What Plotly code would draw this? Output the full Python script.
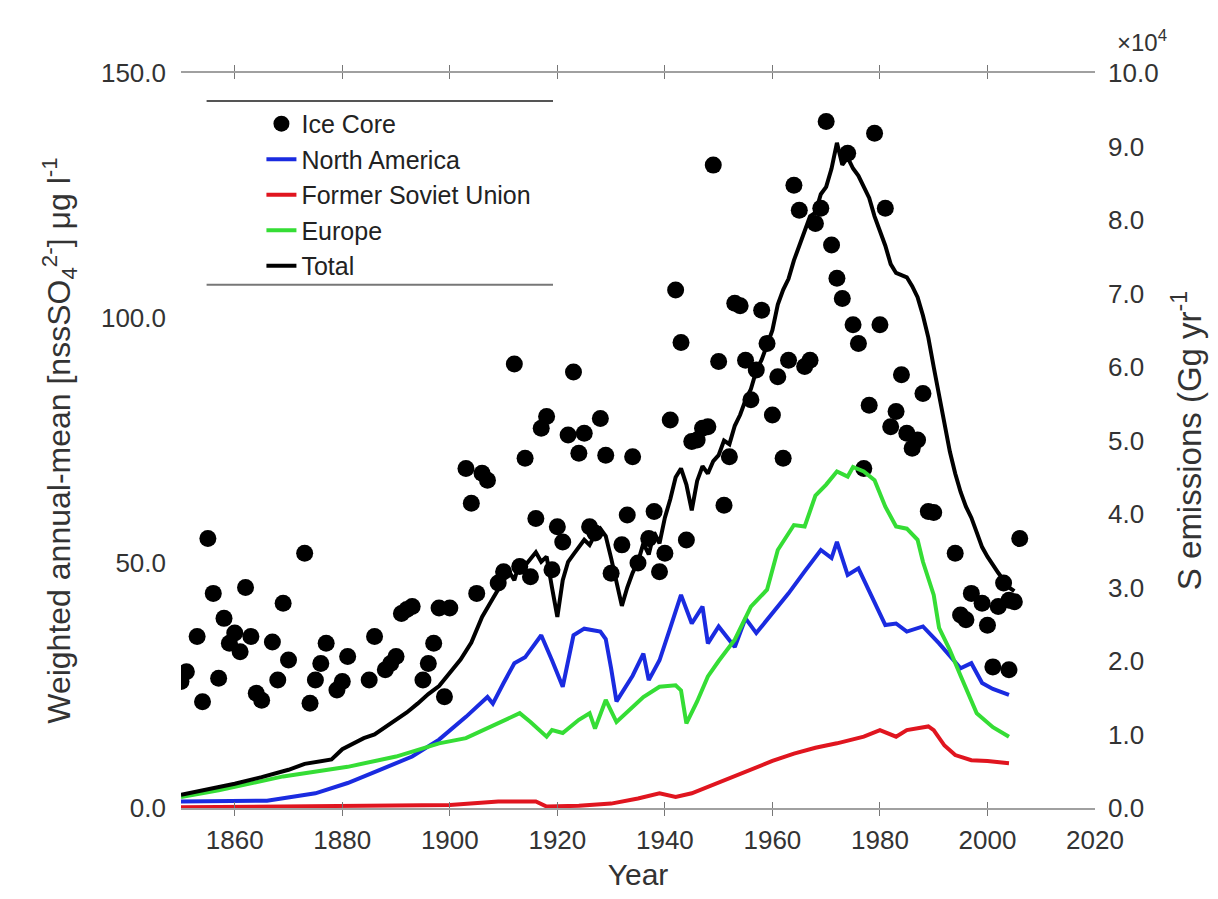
import plotly.graph_objects as go

# ---------------- data ----------------
ice_years = [1850, 1851, 1853, 1854, 1855, 1856, 1857, 1858, 1859, 1860, 1861, 1862, 1863,
             1864, 1865, 1867, 1868, 1869, 1870, 1873, 1874, 1875, 1876, 1877, 1879, 1880,
             1881, 1885, 1886, 1888, 1889, 1890, 1891, 1892, 1893, 1895, 1896, 1897, 1898,
             1899, 1900, 1903, 1904, 1905, 1906, 1907, 1909, 1910, 1912, 1913, 1914, 1915,
             1916, 1917, 1918, 1919, 1920, 1921, 1922, 1923, 1924, 1925, 1926, 1927, 1928,
             1929, 1930, 1932, 1933, 1934, 1935, 1937, 1938, 1939, 1940, 1941, 1942, 1943,
             1944, 1945, 1946, 1947, 1948, 1949, 1950, 1951, 1952, 1953, 1954, 1955, 1956,
             1957, 1958, 1959, 1960, 1961, 1962, 1963, 1964, 1965, 1966, 1967, 1968, 1969,
             1970, 1971, 1972, 1973, 1974, 1975, 1976, 1977, 1978, 1979, 1980, 1981, 1982,
             1983, 1984, 1985, 1986, 1987, 1988, 1989, 1990, 1994, 1995, 1996, 1997, 1999,
             2000, 2001, 2002, 2003, 2004, 2004, 2005, 2006]
ice_values = [25.8, 27.8, 35.0, 21.7, 55.0, 43.8, 26.5, 38.7, 33.6, 35.7, 31.9, 45.0, 35.0,
              23.4, 22.0, 33.9, 26.1, 41.8, 30.2, 52.0, 21.4, 26.1, 29.5, 33.6, 24.1, 25.8,
              30.9, 26.1, 35.0, 28.2, 29.5, 30.9, 39.7, 40.5, 41.1, 26.1, 29.5, 33.6, 40.8,
              22.7, 40.8, 69.3, 62.2, 43.8, 68.3, 66.9, 45.9, 48.2, 90.6, 49.3, 71.4, 47.2,
              59.1, 77.5, 79.9, 48.6, 57.4, 54.3, 76.1, 89.0, 72.4, 76.5, 57.4, 56.1, 79.5,
              72.0, 47.9, 53.7, 59.8, 71.7, 50.0, 55.0, 60.5, 48.2, 52.0, 79.2, 105.7, 95.0,
              54.7, 74.8, 75.1, 77.5, 77.8, 131.2, 91.1, 61.8, 71.7, 103.0, 102.5, 91.4, 83.3,
              89.4, 101.6, 94.8, 80.2, 88.0, 71.4, 91.4, 127.1, 122.0, 90.1, 91.4, 119.3, 122.4,
              140.1, 114.9, 108.1, 104.0, 133.6, 98.6, 94.8, 69.3, 82.2, 137.7, 98.6, 122.4, 77.8,
              80.9, 88.4, 76.5, 73.4, 75.1, 84.6, 60.5, 60.3, 52.0, 39.4, 38.4, 43.8, 41.8,
              37.3, 28.8, 41.1, 45.9, 42.4, 28.2, 42.1, 55.0]

# Emissions in units of 10^4 Gg yr-1
total_years = [1850, 1855, 1860, 1865, 1870, 1873, 1876, 1878, 1880, 1882, 1884, 1886, 1888,
               1890, 1892, 1894, 1896, 1898, 1900, 1902, 1904, 1906, 1908, 1910, 1911, 1912,
               1913, 1914, 1915, 1916, 1917, 1918, 1919, 1920, 1921, 1922, 1923, 1924, 1925,
               1926, 1927, 1928, 1929, 1930, 1931, 1932, 1933, 1934, 1935, 1936, 1937, 1938,
               1939, 1940, 1941, 1942, 1943, 1944, 1945, 1946, 1947, 1948, 1949, 1950, 1951,
               1952, 1953, 1954, 1955, 1956, 1957, 1958, 1959, 1960, 1961, 1962, 1963, 1964,
               1965, 1966, 1967, 1968, 1969, 1970, 1971, 1972, 1973, 1974, 1975, 1976, 1977,
               1978, 1979, 1980, 1981, 1982, 1983, 1984, 1985, 1986, 1987, 1988, 1989, 1990,
               1991, 1992, 1993, 1994, 1995, 1996, 1997, 1998, 1999, 2000, 2001, 2002, 2003,
               2004, 2005]
total_values = [0.18, 0.25, 0.33, 0.42, 0.52, 0.60, 0.63, 0.66, 0.80, 0.88, 0.95, 1.00, 1.10,
                1.20, 1.30, 1.42, 1.55, 1.66, 1.85, 2.02, 2.25, 2.60, 2.85, 3.10, 3.22, 3.10,
                3.35, 3.30, 3.40, 3.48, 3.35, 3.42, 3.00, 2.60, 3.10, 3.35, 3.45, 3.55, 3.65,
                3.58, 3.72, 3.80, 3.70, 3.40, 3.05, 2.75, 3.00, 3.20, 3.35, 3.60, 3.45, 3.75,
                3.60, 3.95, 4.20, 4.50, 4.62, 4.40, 4.05, 4.45, 4.65, 4.55, 4.72, 4.80, 5.00,
                4.95, 5.20, 5.35, 5.55, 5.70, 5.95, 6.10, 6.30, 6.50, 6.85, 7.05, 7.20, 7.45,
                7.65, 7.85, 8.05, 8.10, 8.35, 8.45, 8.70, 9.05, 8.75, 8.85, 8.70, 8.60, 8.45,
                8.30, 8.05, 7.85, 7.65, 7.40, 7.28, 7.25, 7.22, 7.10, 6.95, 6.70, 6.40, 6.00,
                5.60, 5.20, 4.85, 4.55, 4.30, 4.10, 3.95, 3.75, 3.55, 3.42, 3.30, 3.20, 3.10,
                3.00, 2.95]

na_years = [1850, 1860, 1866, 1875, 1881, 1887, 1893, 1898, 1903, 1907, 1908, 1910, 1912,
            1914, 1917, 1919, 1921, 1923, 1925, 1928, 1929, 1930, 1931, 1934, 1936, 1937,
            1939, 1941, 1943, 1945, 1947, 1948, 1950, 1953, 1955, 1957, 1961, 1963, 1966,
            1969, 1971, 1972, 1974, 1976, 1978, 1981, 1983, 1985, 1988, 1991, 1995, 1997,
            1999, 2001, 2004]
na_values = [0.09, 0.09, 0.10, 0.20, 0.34, 0.52, 0.70, 0.93, 1.24, 1.51, 1.42, 1.70, 1.97,
             2.05, 2.35, 2.01, 1.65, 2.35, 2.44, 2.40, 2.30, 1.90, 1.45, 1.80, 2.10, 1.74,
             2.01, 2.45, 2.90, 2.51, 2.74, 2.24, 2.47, 2.19, 2.58, 2.38, 2.74, 2.92, 3.22,
             3.51, 3.40, 3.62, 3.17, 3.26, 2.95, 2.49, 2.51, 2.40, 2.47, 2.24, 1.90, 1.97,
             1.70, 1.62, 1.54]

fsu_years = [1850, 1880, 1900, 1909, 1916, 1918, 1921, 1924, 1930, 1935, 1939, 1942, 1945,
             1948, 1953, 1957, 1960, 1964, 1968, 1972, 1977, 1980, 1983, 1985, 1989, 1990,
             1992, 1994, 1997, 2000, 2004]
fsu_values = [0.01, 0.02, 0.04, 0.09, 0.09, 0.02, 0.02, 0.03, 0.06, 0.13, 0.20, 0.15, 0.20,
              0.29, 0.43, 0.56, 0.64, 0.74, 0.82, 0.88, 0.97, 1.06, 0.97, 1.06, 1.11, 1.06,
              0.85, 0.72, 0.65, 0.64, 0.61]

eu_years = [1850, 1857, 1869, 1881, 1890, 1898, 1903, 1909, 1913, 1915, 1918, 1919, 1921,
            1924, 1926, 1927, 1929, 1931, 1933, 1936, 1939, 1942, 1943, 1944, 1946, 1948,
            1950, 1953, 1956, 1959, 1961, 1964, 1966, 1968, 1970, 1972, 1974, 1975, 1977,
            1979, 1981, 1983, 1985, 1987, 1988, 1990, 1991, 1993, 1995, 1998, 2001, 2004]
eu_values = [0.15, 0.24, 0.43, 0.56, 0.70, 0.88, 0.95, 1.15, 1.29, 1.17, 0.97, 1.06, 1.02,
             1.20, 1.29, 1.08, 1.47, 1.17, 1.30, 1.51, 1.65, 1.67, 1.60, 1.15, 1.45, 1.79,
             2.00, 2.29, 2.74, 2.97, 3.51, 3.85, 3.83, 4.25, 4.40, 4.58, 4.51, 4.64, 4.58,
             4.46, 4.10, 3.83, 3.80, 3.65, 3.35, 2.90, 2.45, 2.15, 1.80, 1.29, 1.10, 0.97]

left_ticks = [0, 50, 100, 150]
right_ticks = [0, 1, 2, 3, 4, 5, 6, 7, 8, 9, 10]
year_ticks = [1860, 1880, 1900, 1920, 1940, 1960, 1980, 2000, 2020]

FONT = "Liberation Sans, Arial, Helvetica, sans-serif"
TXT = "#333333"

fig = go.Figure()

fig.add_trace(go.Scatter(
    x=ice_years, y=ice_values, mode="markers", name="Ice Core",
    marker=dict(color="black", size=17), yaxis="y", legendgroup="a"))
fig.add_trace(go.Scatter(
    x=na_years, y=na_values, mode="lines", name="North America",
    line=dict(color="#1a2be0", width=4), yaxis="y2", legendgroup="b"))
fig.add_trace(go.Scatter(
    x=fsu_years, y=fsu_values, mode="lines", name="Former Soviet Union",
    line=dict(color="#e0151f", width=4), yaxis="y2", legendgroup="c"))
fig.add_trace(go.Scatter(
    x=eu_years, y=eu_values, mode="lines", name="Europe",
    line=dict(color="#35dd35", width=4), yaxis="y2", legendgroup="d"))
fig.add_trace(go.Scatter(
    x=total_years, y=total_values, mode="lines", name="Total",
    line=dict(color="black", width=4), yaxis="y2", legendgroup="e"))

fig.update_layout(
    width=1218, height=899,
    margin=dict(l=181, r=123, t=73, b=91),
    paper_bgcolor="white", plot_bgcolor="white",
    font=dict(family=FONT, size=26, color=TXT),
    showlegend=True,
    legend=dict(x=0.088, y=0.962, xanchor="left", yanchor="top",
                bgcolor="rgba(0,0,0,0)", font=dict(size=25, color="#222222"),
                tracegroupgap=0, traceorder="normal"),
    xaxis=dict(range=[1850, 2020], tickvals=year_ticks, showgrid=False, zeroline=False,
               showline=True, linecolor="#a0a0a0", linewidth=1.5, mirror="allticks",
               ticks="inside", ticklen=6, tickcolor="#777777",
               ticklabelstandoff=8,
               title=dict(text="Year", font=dict(size=30, color=TXT), standoff=10)),
    yaxis=dict(range=[0, 150], tickvals=left_ticks, tickformat=".1f", showgrid=False,
               zeroline=False, showline=False, ticks="", ticklabelstandoff=14,
               title=dict(text="Weighted annual-mean [nssSO<sub>4</sub><sup>2-</sup>] \u03bcg l<sup>-1</sup>",
                          font=dict(size=32, color=TXT), standoff=20)),
    yaxis2=dict(range=[0, 10], tickvals=right_ticks, tickformat=".1f", overlaying="y",
                side="right", showgrid=False, zeroline=False, showline=False, ticks="",
                ticklabelstandoff=12,
                title=dict(text="S emissions (Gg yr<sup>-1</sup>", font=dict(size=33, color=TXT),
                           standoff=20)),
    shapes=[
        dict(type="line", xref="paper", yref="paper", x0=0.028, x1=0.407, y0=0.962, y1=0.962,
             line=dict(color="#555555", width=2)),
        dict(type="line", xref="paper", yref="paper", x0=0.028, x1=0.407, y0=0.712, y1=0.712,
             line=dict(color="#777777", width=2)),
    ],
    annotations=[
        dict(text="\u00d710<sup>4</sup>", xref="paper", yref="paper", x=1.022, y=1.02,
             xanchor="left", yanchor="bottom", showarrow=False,
             font=dict(size=24, color=TXT)),
    ],
)

fig.write_html("out.html")
